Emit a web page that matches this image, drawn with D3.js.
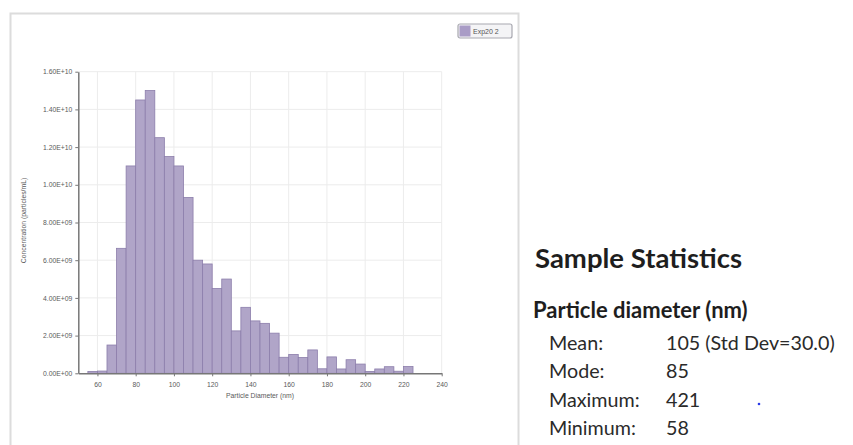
<!DOCTYPE html>
<html>
<head>
<meta charset="utf-8">
<script src="https://cdn.jsdelivr.net/npm/d3@7"></script>
<style>
  body { margin: 0; background: #fff; }
  svg { display: block; }
</style>
</head>
<body>
<svg id="chart" width="853" height="445"></svg>
<script>
// bin start (nm), each bin 5 nm wide
const binStarts = [55, 60, 65, 70, 75, 80, 85, 90, 95, 100, 105, 110, 115, 120, 125, 130, 135,
  140, 145, 150, 155, 160, 165, 170, 175, 180, 185, 190, 195, 200, 205, 210, 215, 220];
const concentration = [0.1e9, 0.12e9, 1.5e9, 6.63e9, 11.0e9, 14.5e9, 15.0e9, 12.5e9, 11.5e9, 11.0e9,
  9.33e9, 6.0e9, 5.8e9, 4.5e9, 5.0e9, 2.25e9, 3.5e9, 2.78e9, 2.65e9, 2.13e9, 0.85e9, 1.0e9,
  0.84e9, 1.24e9, 0.24e9, 0.87e9, 0.23e9, 0.72e9, 0.49e9, 0.1e9, 0.23e9, 0.35e9, 0.11e9, 0.36e9];
const binWidth = 5;
const xTicks = [60, 80, 100, 120, 140, 160, 180, 200, 220, 240];
const yTicks = [0, 2e9, 4e9, 6e9, 8e9, 1e10, 1.2e10, 1.4e10, 1.6e10];
const seriesName = "Exp20 2";

const statsTitle = "Sample Statistics";
const statsSubtitle = "Particle diameter (nm)";
const statLabels = ["Mean:", "Mode:", "Maximum:", "Minimum:"];
const statValues = ["105 (Std Dev=30.0)", "85", "421", "58"];

const svg = d3.select("#chart");

// panel frame
svg.append("rect")
  .attr("x", 10.5).attr("y", 13.5)
  .attr("width", 508).attr("height", 450)
  .attr("fill", "#fff")
  .attr("stroke", "#dcdcdc")
  .attr("stroke-width", 2);

const margin = { top: 71.7, left: 78.3, right: 441.7, bottom: 373.3 };

const x = d3.scaleLinear().domain([50, 240]).range([margin.left, margin.right]);
const y = d3.scaleLinear().domain([0, 1.6e10]).range([margin.bottom, margin.top]);

function sci(v) {
  if (v === 0) return "0.00E+00";
  const e = Math.floor(Math.log10(v));
  const m = v / Math.pow(10, e);
  return m.toFixed(2) + "E+" + String(e).padStart(2, "0");
}

// grid
svg.append("g")
  .selectAll("line.v")
  .data(xTicks)
  .join("line")
  .attr("x1", d => x(d)).attr("x2", d => x(d))
  .attr("y1", margin.top).attr("y2", margin.bottom)
  .attr("stroke", "#ececec");

svg.append("g")
  .selectAll("line.h")
  .data(yTicks.slice(1))
  .join("line")
  .attr("x1", margin.left).attr("x2", margin.right)
  .attr("y1", d => y(d)).attr("y2", d => y(d))
  .attr("stroke", "#ececec");

// bars
svg.append("g")
  .selectAll("rect")
  .data(binStarts)
  .join("rect")
  .attr("x", d => x(d))
  .attr("y", (d, i) => y(concentration[i]))
  .attr("width", d => x(d + binWidth) - x(d))
  .attr("height", (d, i) => y(0) - y(concentration[i]))
  .attr("fill", "#b0a5c8")
  .attr("stroke", "#8c7eab")
  .attr("stroke-width", 0.8);

// axes
const xAxis = svg.append("g")
  .attr("transform", `translate(0,${margin.bottom})`)
  .call(d3.axisBottom(x).tickValues(xTicks).tickSize(3).tickSizeOuter(0));

const yAxis = svg.append("g")
  .attr("transform", `translate(${margin.left},0)`)
  .call(d3.axisLeft(y).tickValues(yTicks).tickFormat(sci).tickSize(3).tickSizeOuter(0));

[xAxis, yAxis].forEach(a => {
  a.select(".domain").attr("stroke", "#777").attr("stroke-width", 1.5);
  a.selectAll(".tick line").attr("stroke", "#777");
  a.selectAll("text").attr("fill", "#5a5a5a").attr("font-family", "Arial, 'Liberation Sans', sans-serif")
    .attr("font-size", 6.8);
});
xAxis.selectAll("text").attr("dy", "1.1em");

svg.append("text")
  .attr("x", (margin.left + margin.right) / 2)
  .attr("y", 398)
  .attr("text-anchor", "middle")
  .attr("font-family", "Arial, 'Liberation Sans', sans-serif")
  .attr("font-size", 6.8)
  .attr("fill", "#5a5a5a")
  .text("Particle Diameter (nm)");

svg.append("text")
  .attr("transform", `translate(26,${(margin.top + margin.bottom) / 2 - 2}) rotate(-90)`)
  .attr("text-anchor", "middle")
  .attr("font-family", "Arial, 'Liberation Sans', sans-serif")
  .attr("font-size", 6.8)
  .attr("fill", "#5a5a5a")
  .text("Concentration (particles/mL)");

// legend
const legend = svg.append("g").attr("transform", "translate(458,24)");
legend.append("rect")
  .attr("width", 54).attr("height", 14).attr("rx", 2)
  .attr("fill", "#f4f4f6").attr("stroke", "#a8a8b0").attr("stroke-width", 1.2);
legend.append("rect")
  .attr("x", 1.5).attr("y", 1.5).attr("width", 11).attr("height", 11)
  .attr("fill", "#a99cc6");
legend.append("text")
  .attr("x", 15).attr("y", 9.8)
  .attr("font-family", "Arial, 'Liberation Sans', sans-serif")
  .attr("font-size", 7)
  .attr("fill", "#555")
  .text(seriesName);

// stats text
const font = "Lato, 'Open Sans', sans-serif";
svg.append("text")
  .attr("x", 535).attr("y", 268)
  .attr("font-family", font).attr("font-weight", 700)
  .attr("font-size", 27.5).attr("fill", "#1e1e1e")
  .text(statsTitle);

svg.append("text")
  .attr("x", 533).attr("y", 318)
  .attr("font-family", font).attr("font-weight", 700)
  .attr("font-size", 22).attr("fill", "#1e1e1e")
  .text(statsSubtitle);

const rowY = d3.scalePoint().domain(statLabels).range([350, 435]);

svg.append("g")
  .selectAll("text")
  .data(statLabels)
  .join("text")
  .attr("x", 549)
  .attr("y", d => rowY(d))
  .attr("font-family", font).attr("font-size", 19.7).attr("fill", "#2a2a2a")
  .text(d => d);

svg.append("g")
  .selectAll("text")
  .data(statValues)
  .join("text")
  .attr("x", 666)
  .attr("y", (d, i) => rowY(statLabels[i]))
  .attr("font-family", font).attr("font-size", 19.7).attr("fill", "#2a2a2a")
  .text(d => d);

svg.append("circle")
  .attr("cx", 759).attr("cy", 404).attr("r", 1.3).attr("fill", "#2a3ae8");
</script>
</body>
</html>
